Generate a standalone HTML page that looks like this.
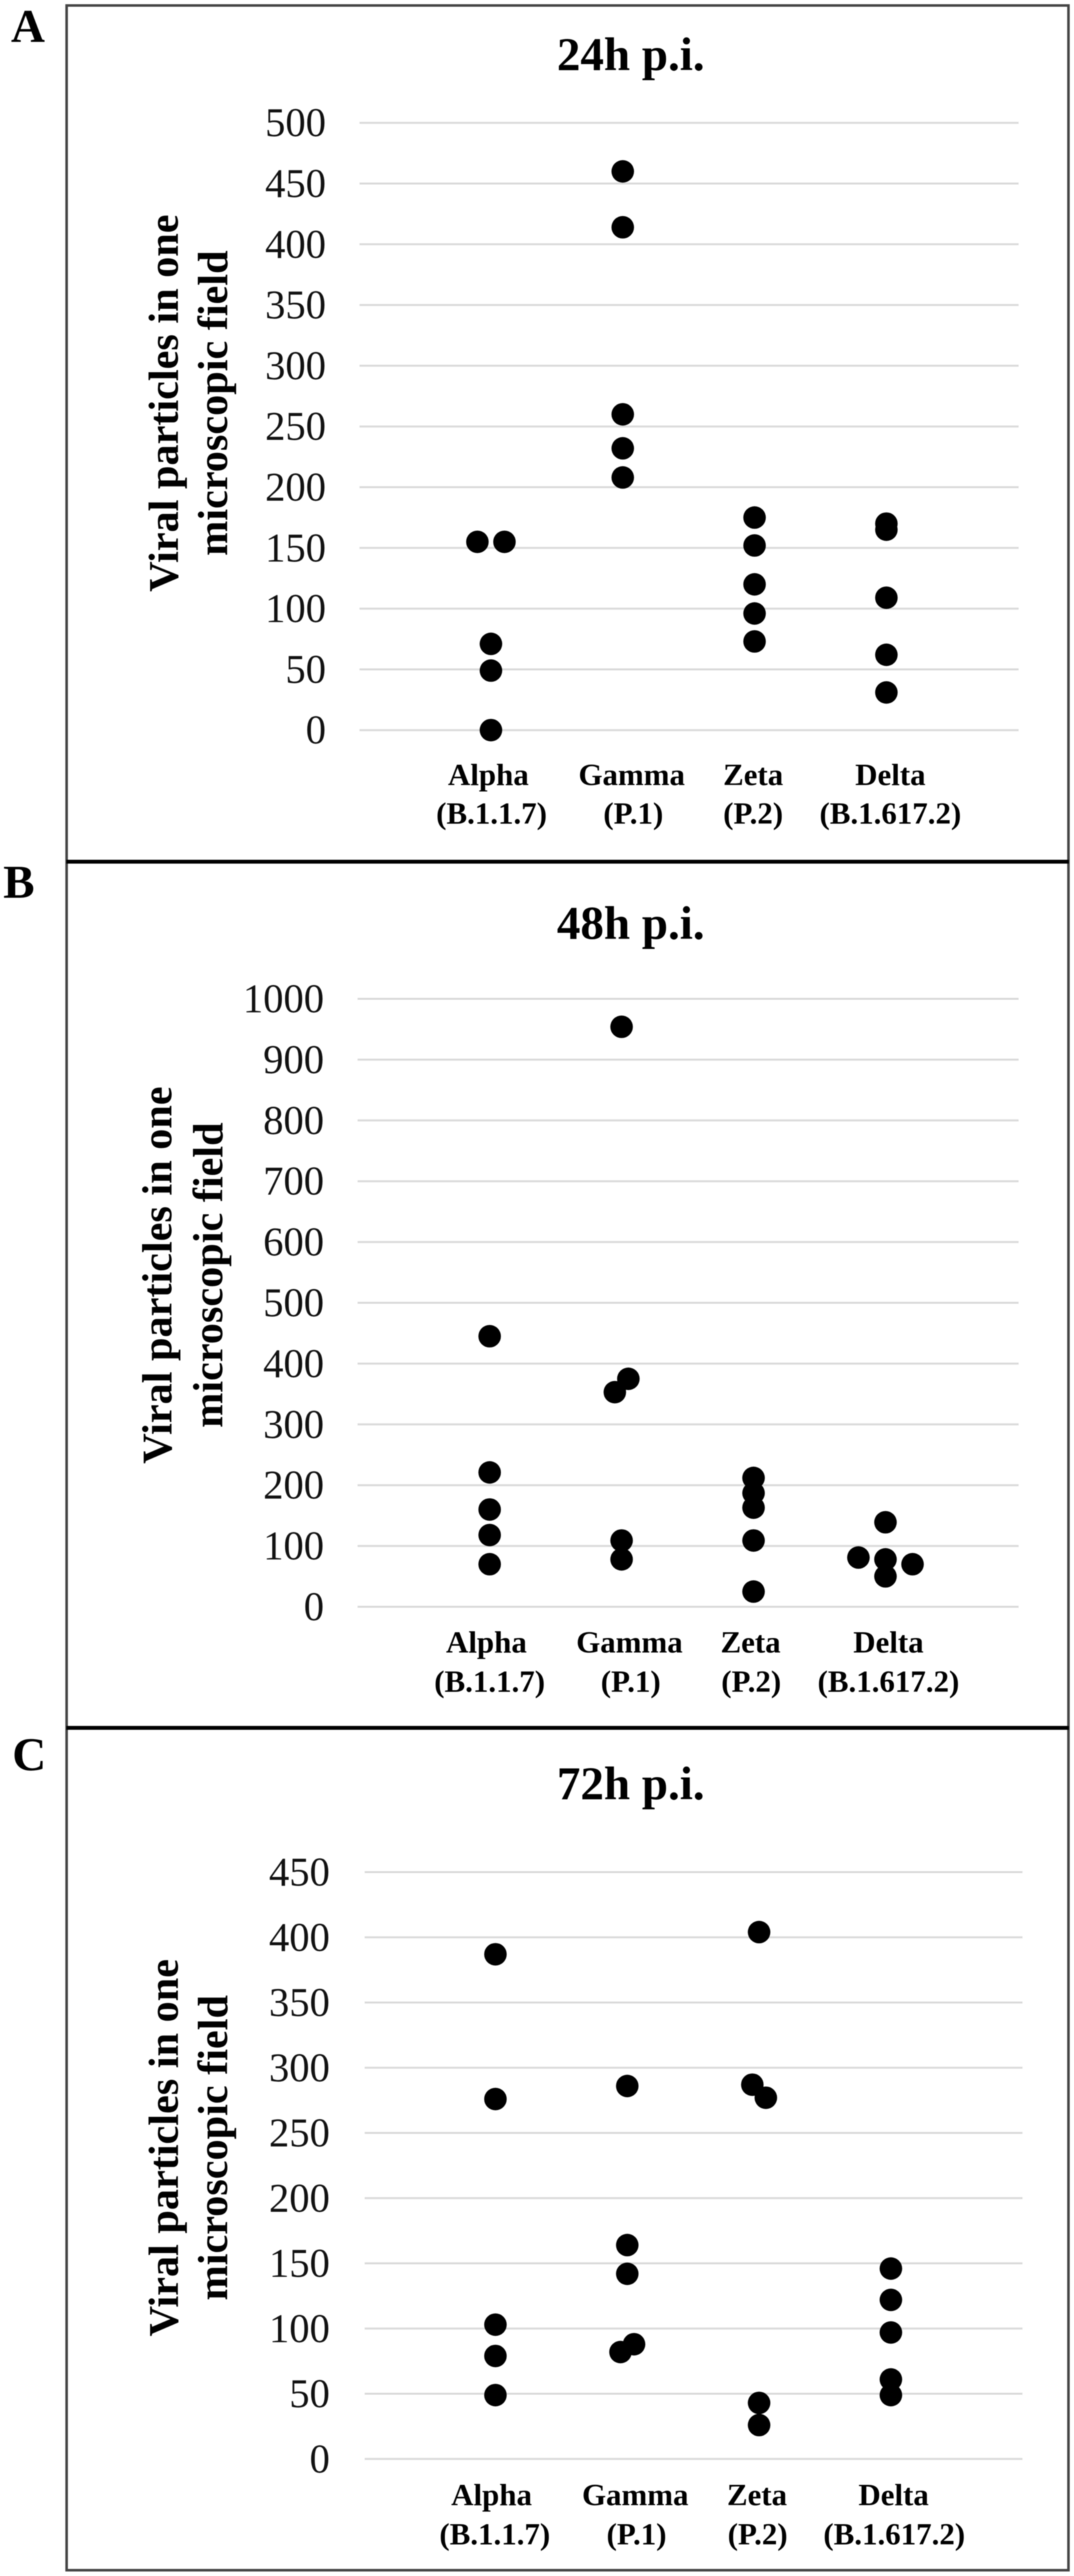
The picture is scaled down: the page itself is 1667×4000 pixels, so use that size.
<!DOCTYPE html>
<html lang="en">
<head>
<meta charset="utf-8">
<title>Viral particles per microscopic field</title>
<style>
html,body{margin:0;padding:0;background:#fff;}
svg{display:block;filter:blur(0.7px);}
text{font-family:"Liberation Serif",serif;fill:#000;}
.title{font-size:73px;font-weight:bold;text-anchor:middle;}
.cat{font-size:48px;font-weight:bold;text-anchor:middle;}
.ytitle{font-size:65.6px;font-weight:bold;text-anchor:middle;}
.panel{font-size:73px;font-weight:bold;}
.tick{font-size:63px;text-anchor:end;fill:#111;}
</style>
</head>
<body>
<svg id="figure" width="1667" height="4000" viewBox="0 0 1667 4000" xmlns="http://www.w3.org/2000/svg">
  <rect width="1667" height="4000" fill="#fff"/>
  <g id="plots"></g>

  <rect x="103.4" y="8.5" width="1555" height="3982.5" fill="none" stroke="#444" stroke-width="4"/>
  <rect x="103" y="1335" width="1556" height="6" fill="#000"/>
  <rect x="103" y="2680" width="1556" height="6" fill="#000"/>

  <text class="panel" x="17" y="65">A</text>
  <text class="panel" x="5" y="1394">B</text>
  <text class="panel" x="19" y="2749">C</text>

  <text class="title" x="979" y="109">24h p.i.</text>
  <text class="title" x="979" y="1458">48h p.i.</text>
  <text class="title" x="979" y="2794">72h p.i.</text>

  <g>
    <text class="ytitle" transform="translate(276 626) rotate(-90)">Viral particles in one</text>
    <text class="ytitle" transform="translate(352.5 626) rotate(-90)">microscopic field</text>
  </g>
  <g>
    <text class="ytitle" transform="translate(266 1980) rotate(-90)">Viral particles in one</text>
    <text class="ytitle" transform="translate(345 1980) rotate(-90)">microscopic field</text>
  </g>
  <g>
    <text class="ytitle" transform="translate(276 3335) rotate(-90)">Viral particles in one</text>
    <text class="ytitle" transform="translate(352.5 3335) rotate(-90)">microscopic field</text>
  </g>

  <g>
    <text class="cat" x="758" y="1219">Alpha</text><text class="cat" x="763" y="1279">(B.1.1.7)</text>
    <text class="cat" x="980.5" y="1219">Gamma</text><text class="cat" x="983" y="1279">(P.1)</text>
    <text class="cat" x="1169" y="1219">Zeta</text><text class="cat" x="1169" y="1279">(P.2)</text>
    <text class="cat" x="1382" y="1219">Delta</text><text class="cat" x="1382" y="1279">(B.1.617.2)</text>
  </g>
  <g>
    <text class="cat" x="755" y="2566">Alpha</text><text class="cat" x="760" y="2627">(B.1.1.7)</text>
    <text class="cat" x="977" y="2566">Gamma</text><text class="cat" x="979" y="2627">(P.1)</text>
    <text class="cat" x="1165" y="2566">Zeta</text><text class="cat" x="1166" y="2627">(P.2)</text>
    <text class="cat" x="1379" y="2566">Delta</text><text class="cat" x="1379" y="2627">(B.1.617.2)</text>
  </g>
  <g>
    <text class="cat" x="763" y="3890">Alpha</text><text class="cat" x="768" y="3951">(B.1.1.7)</text>
    <text class="cat" x="986" y="3890">Gamma</text><text class="cat" x="988" y="3951">(P.1)</text>
    <text class="cat" x="1175" y="3890">Zeta</text><text class="cat" x="1176" y="3951">(P.2)</text>
    <text class="cat" x="1387" y="3890">Delta</text><text class="cat" x="1388" y="3951">(B.1.617.2)</text>
  </g>
</svg>
<script>
// Tick labels
var ticksA = [0, 50, 100, 150, 200, 250, 300, 350, 400, 450, 500];
var ticksB = [0, 100, 200, 300, 400, 500, 600, 700, 800, 900, 1000];
var ticksC = [0, 50, 100, 150, 200, 250, 300, 350, 400, 450];

// Categories
var variants = ['Alpha', 'Gamma', 'Zeta', 'Delta'];

// Series values, 24h p.i.
var alpha24 = [155, 155, 71, 49, 0];
var gamma24 = [460, 414, 260, 232, 208];
var zeta24 = [175, 152, 120, 96, 73];
var delta24 = [170, 165, 109, 62, 31];

// Series values, 48h p.i.
var alpha48 = [445, 221, 160, 118, 70];
var gamma48 = [954, 375, 353, 109, 78];
var zeta48 = [212, 187, 163, 109, 25];
var delta48 = [139, 81, 78, 70, 50];

// Series values, 72h p.i.
var alpha72 = [387, 276, 103, 79, 49];
var gamma72 = [286, 164, 142, 88, 82];
var zeta72 = [404, 287, 277, 43, 26];
var delta72 = [146, 122, 97, 61, 49];

// Beeswarm slot of each point within its category (0 = on centre)
var swarmAlpha24 = [-1, 1, 0, 0, 0];
var swarmZero = [0, 0, 0, 0, 0];
var swarmGamma48 = [0, 0.5, -0.5, 0, 0];
var swarmDelta48 = [0, -2, 0, 2, 0];
var swarmGamma72 = [0, 0, 0, 0.5, -0.5];
var swarmZeta72 = [0, -0.5, 0.5, 0, 0];

var NS = 'http://www.w3.org/2000/svg';
var plots = document.getElementById('plots');

function makeScaleY(axisMax, pxAtMax, pxAtZero) {
  return function (v) { return pxAtZero + (pxAtMax - pxAtZero) * v / axisMax; };
}
function makeScaleX(firstCentre, spacing, swarmStep) {
  return function (catIndex, slot) { return firstCentre + spacing * catIndex + swarmStep * slot; };
}

function drawPanel(id, ticks, series, swarms, frame) {
  var axisMax = ticks[ticks.length - 1];
  var y = makeScaleY(axisMax, frame.top, frame.bottom);
  var x = makeScaleX(frame.firstCentre, frame.spacing, 21);

  var g = document.createElementNS(NS, 'g');
  
  
  plots.appendChild(g);

  ticks.forEach(function (t) {
    var line = document.createElementNS(NS, 'line');
    
    
    line.setAttribute('x1', frame.left);
    line.setAttribute('x2', frame.right);
    line.setAttribute('y1', y(t));
    line.setAttribute('y2', y(t));
    line.setAttribute('stroke', '#d9d9d9');
    line.setAttribute('stroke-width', '3');
    g.appendChild(line);

    var label = document.createElementNS(NS, 'text');
    
    
    label.setAttribute('class', 'tick');
    label.setAttribute('x', frame.labelX);
    label.setAttribute('y', y(t) + 21);
    label.textContent = t;
    g.appendChild(label);
  });

  series.forEach(function (values, c) {
    values.forEach(function (v, k) {
      var dot = document.createElementNS(NS, 'circle');
      
      
      dot.setAttribute('cx', x(c, swarms[c][k]));
      dot.setAttribute('cy', y(v));
      dot.setAttribute('r', '17.5');
      dot.setAttribute('fill', '#000');
      g.appendChild(dot);
    });
  });
}

drawPanel('24h', ticksA, [alpha24, gamma24, zeta24, delta24],
  [swarmAlpha24, swarmZero, swarmZero, swarmZero],
  { top: 190.7, bottom: 1133.7, left: 558, right: 1581, labelX: 506, firstCentre: 762, spacing: 204.6 });

drawPanel('48h', ticksB, [alpha48, gamma48, zeta48, delta48],
  [swarmZero, swarmGamma48, swarmZero, swarmDelta48],
  { top: 1551, bottom: 2495, left: 555, right: 1581, labelX: 503, firstCentre: 760, spacing: 204.8 });

drawPanel('72h', ticksC, [alpha72, gamma72, zeta72, delta72],
  [swarmZero, swarmGamma72, swarmZeta72, swarmZero],
  { top: 2907, bottom: 3818.3, left: 566, right: 1587, labelX: 512, firstCentre: 769, spacing: 204.6 });
</script>
</body>
</html>
